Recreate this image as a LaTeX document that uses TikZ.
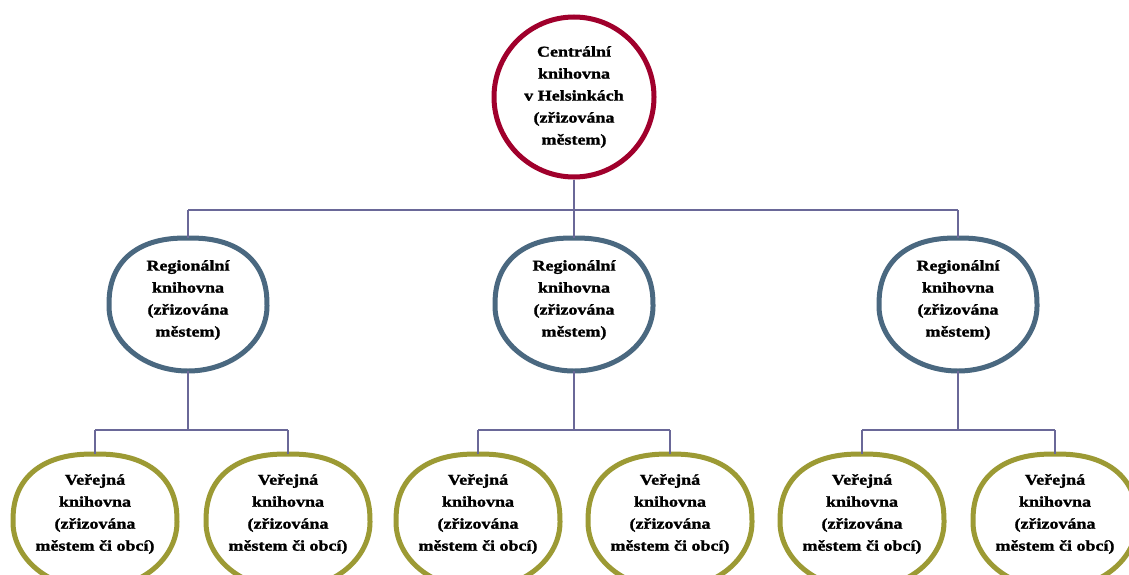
\documentclass[tikz,border=0pt]{standalone}
\usepackage{fontspec}
\setmainfont{Liberation Serif}
\newfontfamily\lblfont{Liberation Serif}[FakeStretch=1.2,FakeBold=1.5]
\definecolor{topred}{HTML}{A0002C}
\definecolor{regblue}{HTML}{4A6880}
\definecolor{pubolive}{HTML}{9C9A34}
\definecolor{linkc}{HTML}{6A6898}
\tikzset{
  lbl/.style={align=center, font=\lblfont\bfseries\fontsize{15}{22}\selectfont, text=black},
  central/.style={circle, draw=topred, line width=5pt, minimum size=160pt, fill=white},
  holder/.style={rectangle, inner sep=0pt, outer sep=0pt},
  link/.style={draw=linkc, line width=1.8pt},
  ring/.style={line width=5pt, fill=white}
}
% #1 cx, #2 cy, #3 rx, #4 ry top, #5 ry bottom, #6 colour
\newcommand\eggring[6]{%
  \draw[ring, draw=#6] plot[domain=0:360, samples=241]
   ({#1 + (\x<180 ? (cos(\x)<0 ? -1 : 1)*#3*pow(abs(cos(\x))+0.000001,0.84) : #3*cos(\x))},
    {#2 + (\x<180 ? -#4*pow(abs(sin(\x))+0.000001,0.84) : -#5*sin(\x))}) -- cycle;}
\begin{document}
\begin{tikzpicture}[x=1pt,y=-1pt]
\useasboundingbox (0,0) rectangle (1129,575);
\clip (0,0) rectangle (1129,575);
\fill[white] (0,0) rectangle (1129,575);
% shapes
\node[central] (c) at (574,97) {};
\foreach \cx in {188,574,958}{\eggring{\cx}{306}{79}{68}{65}{regblue}}
\foreach \cx in {95,288,478,670,862,1055}{\eggring{\cx}{522}{82}{68}{67}{pubolive}}
% anchor holders (top to bottom of each ring)
\node[holder, minimum width=158pt, minimum height=133pt] (r1) at (188,304.5) {};
\node[holder, minimum width=158pt, minimum height=133pt] (r2) at (574,304.5) {};
\node[holder, minimum width=158pt, minimum height=133pt] (r3) at (958,304.5) {};
\node[holder, minimum width=164pt, minimum height=135pt] (p1) at (95,521.5) {};
\node[holder, minimum width=164pt, minimum height=135pt] (p2) at (288,521.5) {};
\node[holder, minimum width=164pt, minimum height=135pt] (p3) at (478,521.5) {};
\node[holder, minimum width=164pt, minimum height=135pt] (p4) at (670,521.5) {};
\node[holder, minimum width=164pt, minimum height=135pt] (p5) at (862,521.5) {};
\node[holder, minimum width=164pt, minimum height=135pt] (p6) at (1055,521.5) {};
% connectors
\coordinate (j0) at (574,210);
\coordinate (jl) at (188,210);
\coordinate (jr) at (958,210);
\draw[link] (c.south) -- (j0);
\draw[link] (jl) -- (jr);
\draw[link] (jl) -- (r1.north);
\draw[link] (j0) -- (r2.north);
\draw[link] (jr) -- (r3.north);
\coordinate (k1) at (188,430);
\coordinate (k2) at (574,430);
\coordinate (k3) at (958,430);
\draw[link] (r1.south) -- (k1);
\draw[link] (r2.south) -- (k2);
\draw[link] (r3.south) -- (k3);
\draw[link] (p1.north |- k1) -- (p2.north |- k1);
\draw[link] (p3.north |- k2) -- (p4.north |- k2);
\draw[link] (p5.north |- k3) -- (p6.north |- k3);
\draw[link] (p1.north |- k1) -- (p1.north);
\draw[link] (p2.north |- k1) -- (p2.north);
\draw[link] (p3.north |- k2) -- (p3.north);
\draw[link] (p4.north |- k2) -- (p4.north);
\draw[link] (p5.north |- k3) -- (p5.north);
\draw[link] (p6.north |- k3) -- (p6.north);
% texts
\node[lbl] (tc) at (574,97) {Centrální\\knihovna\\v Helsinkách\\(zřizována\\městem)};
\foreach \n in {r1,r2,r3}{
  \node[lbl] (t\n) at (\n.center |- 0,300) {Regionální\\knihovna\\(zřizována\\městem)};
}
\foreach \n in {p1,p2,p3,p4,p5,p6}{
  \node[lbl] (t\n) at (\n.center |- 0,514) {Veřejná\\knihovna\\(zřizována\\městem či obcí)};
}
\end{tikzpicture}
\end{document}
